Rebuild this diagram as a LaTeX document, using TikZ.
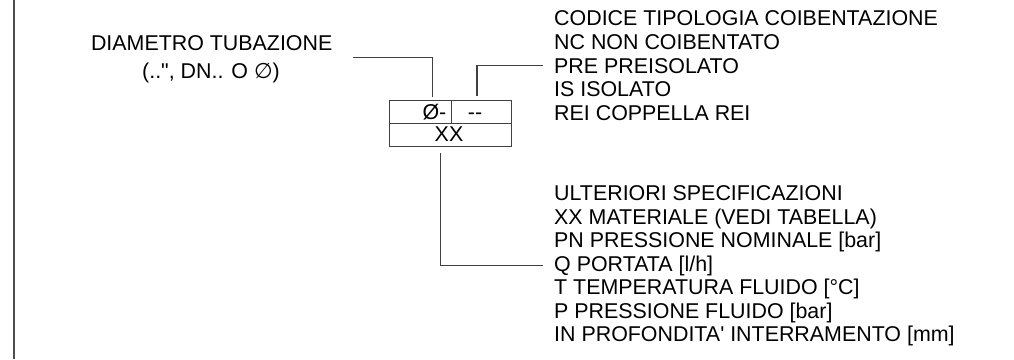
\documentclass[tikz,border=0pt]{standalone}
\usepackage{fontspec}
\setmainfont{Liberation Sans}[Ligatures=TeXOff]
\newfontfamily\djv{DejaVu Sans}[Ligatures=TeXOff]
\begin{document}
\begin{tikzpicture}[x=1pt,y=-1pt,
  lbl/.style={anchor=base west, inner sep=0pt, font=\fontsize{21.4}{24}\selectfont, text=black},
  ctr/.style={anchor=base, inner sep=0pt, font=\fontsize{21.4}{24}\selectfont, text=black},
  ln/.style={draw=black!75, line width=1.1pt},
  cell/.style={draw=black!75, line width=1.1pt, anchor=north west, inner sep=0pt, minimum height=23pt}]
\useasboundingbox (0,0) rectangle (1014,359);
% frame edge
\coordinate (ft) at (14,0);
\coordinate (fb) at (14,359);
\draw[draw=black!70, line width=2pt] (ft) -- (fb);
% left label
\node[ctr] (d1) at (211.7,50) {DIAMETRO TUBAZIONE};
\node[ctr] (d2) at (211,78.5) {(..", DN.. O {\djv ∅})};
% code box
\node[cell, minimum width=62pt] (dia) at (388.5,99.5) {};
\node[cell, minimum width=60pt] (cod) at (450.5,99.5) {};
\node[cell, minimum width=122pt] (xx) at (388.5,122.5) {};
\node[anchor=base east, inner sep=0pt, font=\fontsize{21.4}{24}\selectfont] (dtx) at (446.5,119) {Ø-};
\node[ctr] (ctx) at (475,119) {--};
\node[ctr] (xtx) at (449,141.5) {XX};
% right list (top)
\node[lbl] (c1) at (554,25) {CODICE TIPOLOGIA COIBENTAZIONE};
\node[lbl] (c2) at (554,49) {NC NON COIBENTATO};
\node[lbl] (c3) at (554,73) {PRE PREISOLATO};
\node[lbl] (c4) at (554,96.7) {IS ISOLATO};
\node[lbl] (c5) at (554,120.5) {REI COPPELLA REI};
% right list (bottom)
\node[lbl] (u1) at (554,200.7) {ULTERIORI SPECIFICAZIONI};
\node[lbl] (u2) at (554,224.2) {XX MATERIALE (VEDI TABELLA)};
\node[lbl] (u3) at (554,247.7) {PN PRESSIONE NOMINALE [bar]};
\node[lbl] (u4) at (554,271.4) {Q PORTATA [l/h]};
\node[lbl] (u5) at (554,294.8) {T TEMPERATURA FLUIDO [°C]};
\node[lbl] (u6) at (554,318.3) {P PRESSIONE FLUIDO [bar]};
\node[lbl] (u7) at (554,341.7) {IN PROFONDITA' INTERRAMENTO [mm]};
% leaders
\coordinate (dl) at (352.5,57.3);
\coordinate (dt) at (432.7,96.7);
\draw[ln] (dl) -- (dl -| dt) -- (dt);
\coordinate (ct) at (477,95.5);
\coordinate (ce) at ([shift={(-11pt,7.8pt)}]c3.base west);
\draw[ln] (ct) |- (ce);
\coordinate (xb) at (440.7,153);
\coordinate (ue) at ([shift={(-11pt,6pt)}]u4.base west);
\draw[ln] (xb) |- (ue);
\end{tikzpicture}
\end{document}
